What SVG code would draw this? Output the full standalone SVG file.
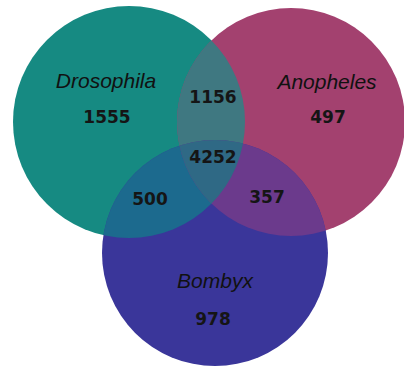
<svg xmlns="http://www.w3.org/2000/svg" width="404" height="371" viewBox="0 0 404 371">
<style>
.name{font-family:"Liberation Sans",Arial,sans-serif;font-style:italic;font-size:21px;fill:#111;text-anchor:middle}
.num{font-family:"DejaVu Sans",sans-serif;font-weight:bold;font-size:17px;fill:#151515;text-anchor:middle}
</style>
<defs>
<clipPath id="cD"><circle cx="129" cy="122" r="116"/></clipPath>
<clipPath id="cA"><circle cx="291" cy="122" r="114"/></clipPath>
<clipPath id="cB"><circle cx="215" cy="253" r="113"/></clipPath>
</defs>
<rect width="404" height="371" fill="#fff"/>
<g id="drosophila"><circle cx="129" cy="122" r="116" fill="#168a82"/></g>
<g id="anopheles"><circle cx="291" cy="122" r="114" fill="#a3416f"/></g>
<g id="bombyx"><circle cx="215" cy="253" r="113" fill="#3a369a"/></g>
<g id="overlaps">
<g clip-path="url(#cD)"><circle cx="291" cy="122" r="114" fill="#3f7881"/><circle cx="215" cy="253" r="113" fill="#1c6a8e"/></g>
<g clip-path="url(#cA)"><circle cx="215" cy="253" r="113" fill="#6b3a8c"/></g>
<g clip-path="url(#cD)"><g clip-path="url(#cA)"><circle cx="215" cy="253" r="113" fill="#2f6985"/></g></g>
</g>
<g id="labels">
<text class="name" x="106" y="88">Drosophila</text>
<text class="num" x="107" y="123">1555</text>
<text class="name" x="327" y="89">Anopheles</text>
<text class="num" x="328" y="123">497</text>
<text class="name" x="215" y="288">Bombyx</text>
<text class="num" x="213" y="325">978</text>
<text class="num" x="213" y="103">1156</text>
<text class="num" x="213" y="163">4252</text>
<text class="num" x="150" y="205">500</text>
<text class="num" x="267" y="203">357</text>
</g>
</svg>
